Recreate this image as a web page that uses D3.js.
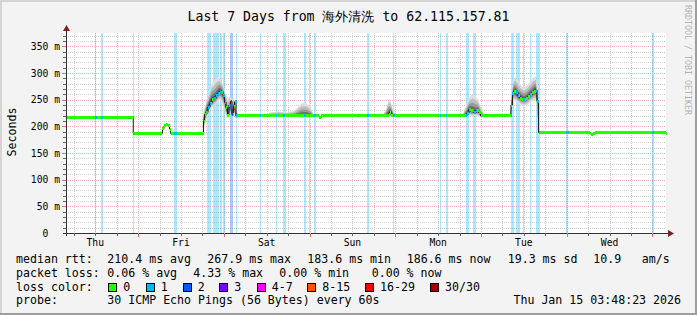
<!DOCTYPE html>
<html>
<head>
<meta charset="utf-8">
<script src="https://cdn.jsdelivr.net/npm/d3@7"></script>
<style>
  body { margin: 0; background: #f3f3f3; }
  svg { display: block; }
  text { font-family: "DejaVu Sans Mono", monospace; white-space: pre; }
</style>
</head>
<body>
<svg id="chart" width="697" height="315"></svg>
<script>
// time span of the graph (UTC)
const timeRange = ["01-08 03:48", "01-15 03:48"];
const dayLabels = ["Thu", "Fri", "Sat", "Sun", "Mon", "Tue", "Wed"];
const yTicks = [0, 50, 100, 150, 200, 250, 300, 350];
const yMax = 375;

// median rtt in ms, each value holds until the next time
const medianRtt = [
  ["01-08 03:48", 217.5], ["01-08 22:38", 187], ["01-09 06:49", 196], ["01-09 07:14", 201],
  ["01-09 07:48", 203], ["01-09 08:22", 201], ["01-09 08:47", 195], ["01-09 09:04", 187],
  ["01-09 18:18", 210], ["01-09 18:35", 222], ["01-09 19:00", 226], ["01-09 19:34", 236],
  ["01-09 20:07", 243], ["01-09 20:41", 250], ["01-09 21:14", 252], ["01-09 21:48", 258],
  ["01-09 22:22", 262], ["01-09 22:55", 266], ["01-09 23:20", 264], ["01-09 23:46", 257],
  ["01-10 00:11", 245], ["01-10 00:36", 235], ["01-10 01:01", 221], ["01-10 01:26", 240],
  ["01-10 01:52", 247], ["01-10 02:17", 222], ["01-10 02:42", 238], ["01-10 02:59", 246],
  ["01-10 03:24", 219.5], ["01-11 02:38", 217], ["01-11 03:20", 219.5], ["01-11 22:06", 223],
  ["01-11 22:31", 226], ["01-11 22:56", 219.5], ["01-12 20:05", 225], ["01-12 20:38", 231],
  ["01-12 21:12", 229], ["01-12 21:54", 226], ["01-12 22:36", 230], ["01-12 23:18", 226],
  ["01-12 23:52", 219.5], ["01-13 08:24", 240], ["01-13 08:49", 262], ["01-13 09:14", 266],
  ["01-13 09:48", 263], ["01-13 10:22", 257], ["01-13 10:55", 253], ["01-13 11:29", 251],
  ["01-13 12:02", 250], ["01-13 12:36", 253], ["01-13 13:10", 256], ["01-13 13:43", 259],
  ["01-13 14:17", 263], ["01-13 14:50", 266], ["01-13 15:16", 268], ["01-13 15:41", 247],
  ["01-13 16:06", 188.5], ["01-14 06:23", 186], ["01-14 06:48", 184], ["01-14 07:22", 186],
  ["01-14 07:47", 188.5], ["01-15 03:48", 187]
];

// loss events: start, minutes, lost pings
const lossEvents = [
  ["01-08 12:00", 24, 1], ["01-08 13:31", 34, 1], ["01-08 22:29", 17, 1], ["01-09 10:02", 45, 1],
  ["01-09 19:12", 67, 1], ["01-09 21:02", 96, 1], ["01-09 22:55", 39, 1], ["01-09 23:50", 34, 1],
  ["01-10 01:38", 50, 2], ["01-10 03:19", 17, 1], ["01-10 10:07", 17, 1], ["01-10 14:36", 15, 1],
  ["01-10 16:29", 44, 1], ["01-10 22:22", 34, 1], ["01-10 23:46", 17, 1], ["01-11 01:14", 34, 1],
  ["01-11 16:00", 34, 1], ["01-11 23:26", 24, 1], ["01-12 12:31", 22, 1], ["01-12 14:07", 27, 1],
  ["01-12 19:48", 56, 1], ["01-12 21:41", 56, 1], ["01-13 08:19", 44, 1], ["01-13 09:43", 60, 1],
  ["01-13 11:50", 17, 1], ["01-13 13:38", 22, 1], ["01-13 15:19", 60, 1], ["01-13 23:53", 40, 1],
  ["01-14 23:58", 29, 1]
];

// smoke: spread of the 30 pings (lowest, highest) in ms
const smoke = [
  [["01-09 18:18", 190, 225], ["01-09 19:00", 212, 245], ["01-09 19:34", 222, 258], ["01-09 20:07", 230, 270],
   ["01-09 20:41", 236, 280], ["01-09 21:31", 240, 288], ["01-09 22:22", 246, 292], ["01-09 22:55", 250, 290],
   ["01-09 23:29", 244, 283], ["01-10 00:02", 232, 272], ["01-10 00:36", 222, 260], ["01-10 01:10", 214, 252],
   ["01-10 01:43", 226, 256], ["01-10 02:17", 214, 250], ["01-10 02:50", 228, 254], ["01-10 03:24", 214, 236],
   ["01-10 03:58", 216, 222]],
  [["01-10 11:48", 218, 221], ["01-10 12:55", 217, 226], ["01-10 15:10", 217, 228], ["01-10 17:24", 217, 226],
   ["01-10 19:38", 217, 229], ["01-10 20:46", 217, 236], ["01-10 21:53", 216, 244], ["01-10 23:00", 216, 244],
   ["01-11 00:07", 216, 236], ["01-11 01:14", 217, 222]],
  [["01-11 20:34", 218, 222], ["01-11 21:24", 218, 232], ["01-11 22:14", 218, 252], ["01-11 22:48", 217, 245],
   ["01-11 23:22", 217, 230], ["01-12 00:12", 218, 222]],
  [["01-12 18:58", 218, 223], ["01-12 19:48", 218, 240], ["01-12 20:38", 220, 252], ["01-12 21:29", 220, 260],
   ["01-12 22:19", 220, 258], ["01-12 23:10", 219, 250], ["01-13 00:00", 218, 236], ["01-13 00:50", 218, 222]],
  [["01-13 08:16", 219, 226], ["01-13 08:32", 228, 255], ["01-13 08:58", 245, 285], ["01-13 09:31", 248, 293],
   ["01-13 10:22", 244, 286], ["01-13 11:12", 240, 276], ["01-13 12:02", 238, 272], ["01-13 12:53", 240, 276],
   ["01-13 13:43", 244, 283], ["01-13 14:34", 248, 291], ["01-13 15:16", 250, 294], ["01-13 15:49", 230, 275],
   ["01-13 16:06", 186, 190]]
];

const lossLabels = ["0", "1", "2", "3", "4-7", "8-15", "16-29", "30/30"];
const lossColors = ["#26ff00", "#00b8ff", "#0059ff", "#7e00ff", "#ff00ff", "#ff5500", "#ff0000", "#a10000"];

const rttStats = ["210.4 ms avg", "267.9 ms max", "183.6 ms min", "186.6 ms now", "19.3 ms sd", "10.9", "am/s"];
const lossStats = ["0.06 % avg", "4.33 % max", "0.00 % min", "0.00 % now"];
const probeText = "30 ICMP Echo Pings (56 Bytes) every 60s";
const stampText = "Thu Jan 15 03:48:23 2026";
const titleText = "Last 7 Days from 海外清洗 to 62.115.157.81";

const parse = s => d3.utcParse("%Y-%m-%d %H:%M")("2026-" + s);

const svg = d3.select("#chart");
const W = 697, H = 315;

// frame
svg.append("rect").attr("width", W).attr("height", H).attr("fill", "#f3f3f3");
svg.append("path").attr("d", `M0,0H${W}V2H2V${H}H0Z`).attr("fill", "#d4d4d4");
svg.append("path").attr("d", `M${W},${H}H0V${H - 2}H${W - 2}V0H${W}Z`).attr("fill", "#9e9e9e");

const x = d3.scaleUtc().domain(timeRange.map(parse)).range([66, 666]);
const y = d3.scaleLinear().domain([0, yMax]).range([233, 33]);
const [t0, t1] = x.domain();

svg.append("rect").attr("x", 66).attr("y", 33).attr("width", 600).attr("height", 200).attr("fill", "#fff");

// grid
const grid = svg.append("g").attr("shape-rendering", "crispEdges");
const sixHours = d3.utcHour.every(6).range(t0, t1);
sixHours.forEach(t => {
  const major = t.getUTCHours() === 0;
  grid.append("line")
    .attr("x1", Math.round(x(t)) + 0.5).attr("x2", Math.round(x(t)) + 0.5)
    .attr("y1", 33).attr("y2", 233)
    .attr("stroke", major ? "#f2baba" : "#d2d2d2")
    .attr("stroke-dasharray", "1,1");
});
d3.range(10, yMax, 10).forEach(v => {
  const major = v % 50 === 0;
  grid.append("line")
    .attr("x1", 66).attr("x2", 666)
    .attr("y1", Math.round(y(v)) + 0.5).attr("y2", Math.round(y(v)) + 0.5)
    .attr("stroke", major ? "#f2baba" : "#d2d2d2")
    .attr("stroke-dasharray", "1,1");
});

// loss bars
svg.append("g").selectAll("rect")
  .data(lossEvents)
  .enter().append("rect")
  .attr("x", d => Math.round(x(parse(d[0]))))
  .attr("width", d => Math.max(1, Math.round(x(d3.utcMinute.offset(parse(d[0]), d[1])) - x(parse(d[0])))))
  .attr("y", 33).attr("height", 200)
  .attr("fill", d => lossColors[d[2]])
  .attr("fill-opacity", 0.33)
  .attr("shape-rendering", "crispEdges");

// median lookup for the smoke layers
const med = medianRtt.map(d => ({ t: parse(d[0]), v: d[1] }));
const bis = d3.bisector(d => d.t).right;
const medianAt = t => med[Math.max(0, bis(med, t) - 1)].v;

// smoke
const smokeLayers = [[1, "#dedede"], [0.75, "#bebebe"], [0.5, "#999999"], [0.3, "#717171"], [0.15, "#4c4c4c"]];
const smokeG = svg.append("g");
smoke.forEach(region => {
  const pts = region.map(d => ({ t: parse(d[0]), lo: d[1], hi: d[2], m: medianAt(parse(d[0])) }));
  smokeLayers.forEach(([f, c]) => {
    const area = d3.area()
      .x(d => x(d.t))
      .y0(d => y(d.m - (d.m - d.lo) * f))
      .y1(d => y(d.m + (d.hi - d.m) * f));
    smokeG.append("path").datum(pts).attr("d", area).attr("fill", c);
  });
});

// median line
const medLine = med.concat([{ t: t1, v: med[med.length - 1].v }]);
svg.append("path")
  .datum(medLine)
  .attr("d", d3.line().x(d => x(d.t)).y(d => y(d.v)).curve(d3.curveStepAfter))
  .attr("fill", "none").attr("stroke", "#202020").attr("stroke-width", 1);

// colored median band
const band = svg.append("g").attr("shape-rendering", "crispEdges");
function bandSeg(ta, tb, v, color) {
  band.append("rect")
    .attr("x", x(ta)).attr("width", Math.max(1, x(tb) - x(ta)))
    .attr("y", y(v) - 1.5).attr("height", 3)
    .attr("fill", color);
}
for (let i = 0; i < med.length; i++) {
  const tb = i < med.length - 1 ? med[i + 1].t : t1;
  bandSeg(med[i].t, tb, med[i].v, lossColors[0]);
}
lossEvents.forEach(e => {
  const a = parse(e[0]), b = d3.utcMinute.offset(a, e[1]);
  for (let i = 0; i < med.length; i++) {
    const sa = med[i].t, sb = i < med.length - 1 ? med[i + 1].t : t1;
    const ca = a > sa ? a : sa, cb = b < sb ? b : sb;
    if (cb > ca) bandSeg(ca, cb, med[i].v, lossColors[e[2]]);
  }
});

// axes
const axis = svg.append("g").attr("shape-rendering", "crispEdges");
axis.append("line").attr("x1", 63).attr("x2", 669).attr("y1", 233.5).attr("y2", 233.5).attr("stroke", "#333");
axis.append("line").attr("x1", 66.5).attr("x2", 66.5).attr("y1", 236).attr("y2", 30).attr("stroke", "#333");
sixHours.forEach(t => {
  const xx = Math.round(x(t)) + 0.5;
  axis.append("line").attr("x1", xx).attr("x2", xx).attr("y1", 233).attr("y2", t.getUTCHours() === 0 ? 237 : 236)
    .attr("stroke", t.getUTCHours() === 0 ? "#e07070" : "#666");
});
d3.range(10, yMax, 10).forEach(v => {
  const yy = Math.round(y(v)) + 0.5;
  axis.append("line").attr("x1", v % 50 === 0 ? 62 : 63).attr("x2", 66).attr("y1", yy).attr("y2", yy)
    .attr("stroke", v % 50 === 0 ? "#e07070" : "#666");
});
svg.append("path").attr("d", "M66.5,25L63,31H70Z").attr("fill", "#7f1f1f");
svg.append("path").attr("d", "M674,233.5L668,230V237Z").attr("fill", "#7f1f1f");

// y labels
svg.append("g").selectAll("text")
  .data(yTicks)
  .enter().append("text")
  .attr("x", 60).attr("y", d => y(d) + 3.5)
  .attr("text-anchor", "end")
  .attr("font-size", "9.7px")
  .text(d => d === 0 ? "0  " : d + " m");

// day labels at noon
svg.append("g").selectAll("text")
  .data(dayLabels)
  .enter().append("text")
  .attr("x", (d, i) => x(d3.utcHour.offset(d3.utcDay.offset(d3.utcDay.floor(t0), i), 12)))
  .attr("y", 246)
  .attr("text-anchor", "middle")
  .attr("font-size", "9.7px")
  .text(d => d);

// title
svg.append("text").attr("x", 348.5).attr("y", 21).attr("text-anchor", "middle")
  .attr("font-size", "13.2px").text(titleText);

svg.append("text").attr("transform", "translate(16,132) rotate(-90)").attr("text-anchor", "middle")
  .attr("font-size", "11.6px").text("Seconds");

svg.append("text").attr("transform", "translate(685,5) rotate(90)")
  .attr("font-size", "8.3px").attr("fill", "#b4b4b4").text("RRDTOOL / TOBI OETIKER");

// legend
const lg = svg.append("g").attr("font-size", "11.6px");
const row = (txt, xx, yy) => lg.append("text").attr("x", xx).attr("y", yy).text(txt);
const rttX = [107.3, 207.3, 307.3, 406.7, 507.7, 593.3, 641.7];
row("median rtt:", 16, 263);
rttStats.forEach((s, i) => row(s, rttX[i], 263));
const lossX = [107.3, 193.3, 279.3, 371.7];
row("packet loss:", 16, 277);
lossStats.forEach((s, i) => row(s, lossX[i], 277));
row("loss color:", 16, 291);
const boxX = [108.3, 145.7, 182.7, 219.3, 256.7, 307.3, 365, 430];
lossLabels.forEach((s, i) => {
  lg.append("rect").attr("x", Math.round(boxX[i]) + 0.5).attr("y", 283.5).attr("width", 8).attr("height", 8)
    .attr("fill", lossColors[i]).attr("stroke", "#000");
  row(s, boxX[i] + 15, 291);
});
row("probe:", 16, 304);
row(probeText, 107.3, 304);
lg.append("text").attr("x", 681).attr("y", 304).attr("text-anchor", "end").text(stampText);
</script>
</body>
</html>
